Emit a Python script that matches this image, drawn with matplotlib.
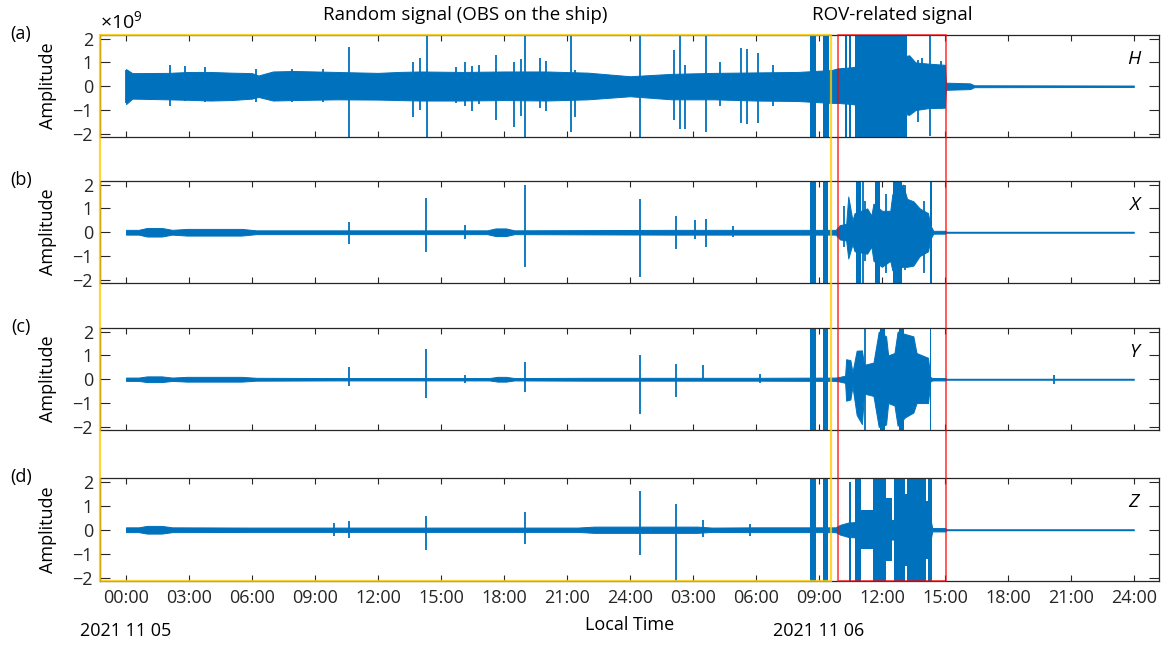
import matplotlib
matplotlib.use("Agg")
import matplotlib.pyplot as plt
from matplotlib.patches import Rectangle

plt.rcParams['font.family'] = ['Open Sans', 'DejaVu Sans']
plt.rcParams['mathtext.fontset'] = 'custom'
plt.rcParams['mathtext.rm'] = 'Open Sans'
plt.rcParams['font.size'] = 13

BLUE = '#0072BD'
YELLOW = '#FFCC00'
RED = '#FF0000'
DARK = '#262626'

# === data: time in hours since 2021-11-05 00:00, amplitude in 1e9 ===
xtick_hours = list(range(0, 49, 3))
xtick_labels = ['00:00', '03:00', '06:00', '09:00', '12:00', '15:00', '18:00', '21:00', '24:00',
                '03:00', '06:00', '09:00', '12:00', '15:00', '18:00', '21:00', '24:00']
components = ['H', 'X', 'Y', 'Z']
panel_tags = ['(a)', '(b)', '(c)', '(d)']

# envelope of each trace (time, max, min)
env_t_a = [0, 0.3, 2, 3, 4, 5, 6, 6.3, 7, 8, 10, 12, 13, 14, 16, 18, 20, 22, 24, 26, 28, 30, 32,
           33.6, 33.9, 34.6, 37.3, 37.6, 38.2, 39.0, 39.05, 40.2, 40.4, 48]
env_up_a = [0.72, 0.55, 0.56, 0.6, 0.6, 0.57, 0.55, 0.45, 0.62, 0.64, 0.6, 0.56, 0.6, 0.62, 0.6,
            0.62, 0.62, 0.57, 0.42, 0.52, 0.56, 0.58, 0.6, 0.68, 0.75, 0.8, 1.3, 1.0, 0.95, 0.9,
            0.15, 0.12, 0.04, 0.03]
env_lo_a = [-0.75, -0.52, -0.55, -0.57, -0.6, -0.58, -0.52, -0.45, -0.6, -0.58, -0.55, -0.56,
            -0.58, -0.6, -0.6, -0.58, -0.6, -0.55, -0.42, -0.55, -0.55, -0.6, -0.62, -0.7, -0.7,
            -0.75, -1.2, -1.0, -0.92, -0.9, -0.15, -0.12, -0.04, -0.03]

env_t_b = [0, 0.6, 1.0, 1.7, 2.2, 2.9, 5.5, 6.2, 10, 14, 17.2, 17.6, 18.1, 18.5, 22, 26, 30, 33.8,
           34.0, 34.3, 34.4, 34.6, 34.7, 35.3, 35.5, 35.6, 36.0, 36.4, 36.5, 37.0, 37.2, 37.5,
           37.8, 38.2, 38.3, 38.45, 39.0, 39.1, 48]
env_up_b = [0.1, 0.1, 0.18, 0.18, 0.1, 0.14, 0.14, 0.08, 0.08, 0.08, 0.08, 0.16, 0.16, 0.08, 0.09,
            0.1, 0.1, 0.1, 0.3, 0.35, 1.5, 0.5, 0.8, 1.0, 0.7, 1.2, 0.9, 0.9, 1.6, 2.0, 1.4, 1.3,
            1.0, 0.8, 0.3, 0.06, 0.06, 0.02, 0.02]
env_lo_b = [-0.1, -0.1, -0.18, -0.18, -0.1, -0.14, -0.14, -0.08, -0.08, -0.08, -0.08, -0.16, -0.16,
            -0.08, -0.09, -0.1, -0.1, -0.1, -0.3, -0.35, -1.1, -0.5, -0.8, -0.9, -0.6, -1.2, -1.45,
            -1.2, -1.6, -1.45, -1.45, -1.4, -1.0, -0.8, -0.3, -0.06, -0.06, -0.02, -0.02]

env_t_c = [0, 0.6, 1.0, 1.7, 2.2, 2.9, 5.5, 6.2, 10, 14, 17.3, 17.7, 18.1, 18.5, 22, 26, 30, 33.8,
           34.0, 34.25, 34.3, 34.5, 34.6, 34.8, 35.05, 35.15, 35.6, 35.85, 36.2, 36.3, 36.6,
           36.75, 37.1, 37.5, 37.65, 38.2, 38.3, 38.4, 39.0, 39.1, 48]
env_up_c = [0.07, 0.07, 0.12, 0.12, 0.07, 0.1, 0.1, 0.06, 0.05, 0.05, 0.05, 0.1, 0.1, 0.05, 0.06,
            0.06, 0.06, 0.07, 0.1, 0.15, 0.84, 0.8, 0.3, 1.2, 1.21, 0.6, 0.7, 2.0, 1.8, 1.0, 1.1,
            2.0, 1.9, 1.8, 1.1, 0.9, 0.1, 0.05, 0.05, 0.02, 0.02]
env_lo_c = [-0.07, -0.07, -0.12, -0.12, -0.07, -0.1, -0.1, -0.06, -0.05, -0.05, -0.05, -0.1, -0.1,
            -0.05, -0.06, -0.06, -0.06, -0.07, -0.1, -0.15, -0.9, -0.85, -0.3, -1.5, -1.88, -0.6,
            -0.7, -2.0, -1.9, -1.0, -1.1, -1.95, -1.6, -1.4, -1.0, -1.0, -0.1, -0.05, -0.05,
            -0.02, -0.02]

env_t_d = [0, 0.6, 1.0, 1.7, 2.2, 6, 10, 14, 18, 21.5, 22.3, 27.2, 27.9, 30, 33.8, 34.0, 34.4, 38.3,
           38.4, 39.0, 39.1, 48]
env_up_d = [0.1, 0.1, 0.16, 0.16, 0.1, 0.09, 0.09, 0.09, 0.09, 0.09, 0.13, 0.13, 0.09, 0.1, 0.1,
            0.2, 0.3, 0.5, 0.07, 0.07, 0.02, 0.02]
env_lo_d = [-0.1, -0.1, -0.16, -0.16, -0.1, -0.09, -0.09, -0.09, -0.09, -0.09, -0.13, -0.13, -0.09,
            -0.1, -0.1, -0.2, -0.3, -0.5, -0.07, -0.07, -0.02, -0.02]

# saturated bursts (start, end, max, min)
burst_start_a = [32.6, 33.2, 34.25, 34.45, 34.7]
burst_end_a = [32.85, 33.5, 34.35, 34.55, 37.2]
burst_up_a = [2.5, 2.5, 2.5, 2.5, 2.5]
burst_lo_a = [-2.5, -2.5, -2.5, -2.5, -2.5]

burst_start_b = [32.6, 33.2, 34.75, 35.65, 36.55, 38.3]
burst_end_b = [32.85, 33.45, 35.0, 35.9, 36.95, 38.4]
burst_up_b = [2.5, 2.5, 2.5, 2.5, 2.5, 2.5]
burst_lo_b = [-2.5, -2.5, -2.5, -2.5, -2.5, -2.5]

burst_start_c = [32.6, 33.2, 35.9, 36.8, 38.28]
burst_end_c = [32.85, 33.45, 36.15, 37.05, 38.35]
burst_up_c = [2.5, 2.5, 2.5, 2.5, 2.5]
burst_lo_c = [-2.5, -2.5, -2.5, -2.5, -2.5]

burst_start_d = [32.6, 33.2, 34.45, 34.7, 35.0, 35.6, 36.2, 36.6, 37.1, 37.2, 38.1, 38.2]
burst_end_d = [32.85, 33.45, 34.55, 35.0, 35.6, 36.2, 36.5, 37.1, 37.2, 38.1, 38.2, 38.4]
burst_up_d = [2.5, 2.5, 1.97, 2.5, 0.8, 2.5, 1.3, 2.5, 1.5, 2.5, 1.2, 2.5]
burst_lo_d = [-2.5, -2.5, -2.5, -2.5, -0.8, -2.5, -1.3, -2.5, -1.5, -2.5, -1.2, -2.5]

# single spikes (time, max, min)
spike_t_a = [0.0, 2.1, 2.8, 3.75, 6.2, 7.9, 9.4, 10.6, 13.65, 13.98, 14.33, 15.7, 16.15, 16.5,
             16.8, 17.6, 18.5, 18.8, 19.0, 19.7, 20.0, 21.2, 21.4, 24.5, 26.1, 26.4, 26.6, 27.6,
             28.3, 29.3, 29.6, 30.1, 30.8, 37.7, 37.9, 38.3, 38.8]
spike_up_a = [0.7, 0.9, 0.87, 0.8, 0.72, 0.72, 0.72, 1.66, 1.0, 1.2, 2.5, 0.8, 1.0, 0.87, 0.9,
              1.3, 1.0, 1.15, 2.5, 1.2, 1.05, 2.5, 0.7, 2.5, 1.5, 2.5, 0.9, 2.5, 1.0, 1.6, 1.58,
              1.4, 0.9, 1.1, 1.2, 2.5, 1.05]
spike_lo_a = [-0.7, -0.85, -0.6, -0.65, -0.68, -0.66, -0.65, -2.5, -1.27, -1.0, -2.5, -0.7, -0.85,
              -1.05, -0.75, -1.4, -1.7, -1.25, -2.5, -0.9, -1.05, -1.9, -1.27, -2.5, -1.4, -1.8,
              -1.8, -1.9, -0.85, -1.55, -1.6, -1.55, -0.85, -1.5, -0.95, -2.1, -0.95]

spike_t_b = [10.6, 14.3, 16.15, 19.0, 24.5, 26.2, 27.1, 27.6, 28.9, 34.2, 35.08, 35.2, 36.2,
             37.1, 38.0]
spike_up_b = [0.43, 1.42, 0.32, 1.97, 1.41, 0.67, 0.53, 0.56, 0.25, 1.1, 2.5, 1.3, 1.6, 2.0, 1.3]
spike_lo_b = [-0.49, -0.84, -0.3, -1.45, -1.87, -0.7, -0.3, -0.61, -0.2, -0.6, -2.5, -1.2, -1.7,
              -1.6, -1.7]

spike_t_c = [10.6, 14.3, 16.15, 19.0, 24.5, 26.2, 27.5, 30.2, 35.2, 36.0, 36.9, 44.2]
spike_up_c = [0.52, 1.28, 0.17, 0.74, 1.02, 0.64, 0.59, 0.2, 2.5, 2.5, 2.5, 0.18]
spike_lo_c = [-0.3, -0.77, -0.14, -0.53, -1.46, -0.73, -0.05, -0.17, -2.5, -2.5, -2.5, -0.18]

spike_t_d = [9.9, 10.6, 14.3, 19.0, 24.5, 26.2, 27.5, 29.7]
spike_up_d = [0.3, 0.37, 0.58, 0.74, 1.6, 1.09, 0.4, 0.23]
spike_lo_d = [-0.25, -0.36, -0.84, -0.59, -1.05, -2.5, -0.32, -0.25]

# marked windows (hours)
random_end = 33.57
rov_start, rov_end = 33.9, 39.05

envs = [(env_t_a, env_up_a, env_lo_a), (env_t_b, env_up_b, env_lo_b),
        (env_t_c, env_up_c, env_lo_c), (env_t_d, env_up_d, env_lo_d)]
bursts = [(burst_start_a, burst_end_a, burst_up_a, burst_lo_a),
          (burst_start_b, burst_end_b, burst_up_b, burst_lo_b),
          (burst_start_c, burst_end_c, burst_up_c, burst_lo_c),
          (burst_start_d, burst_end_d, burst_up_d, burst_lo_d)]
spikes = [(spike_t_a, spike_up_a, spike_lo_a), (spike_t_b, spike_up_b, spike_lo_b),
          (spike_t_c, spike_up_c, spike_lo_c), (spike_t_d, spike_up_d, spike_lo_d)]

# === figure ===
W, H = 1169, 647
fig = plt.figure(figsize=(W / 100, H / 100), dpi=100)
left, right = 100, 1159
panel_px = [(35, 137), (181, 283), (328, 430), (478, 581)]
xlim = (-1.24, 49.2)
ylim = (-2.13, 2.15)

axes = []
for i, (top, bot) in enumerate(panel_px):
    ax = fig.add_axes([left / W, 1 - bot / H, (right - left) / W, (bot - top) / H])
    t, up, lo = envs[i]
    ax.fill_between(t, lo, up, color=BLUE, lw=0.7, zorder=2)
    bs, be, bu, bl = bursts[i]
    ax.bar(bs, [u - l for u, l in zip(bu, bl)], bottom=bl,
           width=[e - s for s, e in zip(bs, be)], align='edge', color=BLUE, lw=0, zorder=2)
    st, su, sl = spikes[i]
    ax.vlines(st, sl, su, color=BLUE, lw=1.3, zorder=2)

    ax.set_xlim(xlim)
    ax.set_ylim(ylim)
    ax.set_yticks([-2, -1, 0, 1, 2])
    ax.set_xticks(xtick_hours)
    ax.tick_params(axis='both', direction='in', top=True, right=True, colors=DARK, width=0.8)
    ax.tick_params(axis='y', length=7, pad=5)
    ax.tick_params(axis='x', length=4, pad=6)
    for s in ax.spines.values():
        s.set_color(DARK)
        s.set_linewidth(0.9)
    if i < 3:
        ax.set_xticklabels([])
    else:
        ax.set_xticklabels(xtick_labels)
    ax.set_ylabel('Amplitude')
    ax.yaxis.set_label_coords(-0.041, 0.5)
    ax.text(-0.0746, 1.01, panel_tags[i], transform=ax.transAxes, ha='center', va='center')
    ax.text(48, 1.15, components[i], ha='center', va='center', style='italic', fontsize=14)
    axes.append(ax)

ax_d = axes[3]
ax_d.set_xlabel('Local Time', va='center')
ax_d.xaxis.set_label_coords(0.5, -0.423)
xt = ax_d.get_xaxis_transform()
ax_d.text(0, -0.49, '2021 11 05', transform=xt, ha='center', va='center')
ax_d.text(33, -0.49, '2021 11 06', transform=xt, ha='center', va='center')

fig.text(left / W, 1 - 22 / H, '×10$^{9}$', ha='left', va='center', fontsize=14)

# overlay for the two marked windows
top_px, bot_px = panel_px[0][0], panel_px[3][1]
ov = fig.add_axes([left / W, 1 - bot_px / H, (right - left) / W, (bot_px - top_px) / H])
ov.set_xlim(xlim)
ov.set_ylim(0, 1)
ov.axis('off')
ov.patch.set_alpha(0)
ov.add_patch(Rectangle((xlim[0], 0), random_end - xlim[0], 1, fill=False,
                       edgecolor=YELLOW, alpha=0.8, lw=1.6, clip_on=False))
ov.add_patch(Rectangle((rov_start, 0), rov_end - rov_start, 1, fill=False,
                       edgecolor=RED, alpha=0.75, lw=1.2, clip_on=False))
title_y = 1 + 20 / (bot_px - top_px)
ov.text((xlim[0] + random_end) / 2, title_y, 'Random signal (OBS on the ship)',
        ha='center', va='center', fontsize=13.5)
ov.text((rov_start + rov_end) / 2, title_y, 'ROV-related signal', ha='center', va='center',
        fontsize=13.5)

fig.savefig('out.png', dpi=100)
